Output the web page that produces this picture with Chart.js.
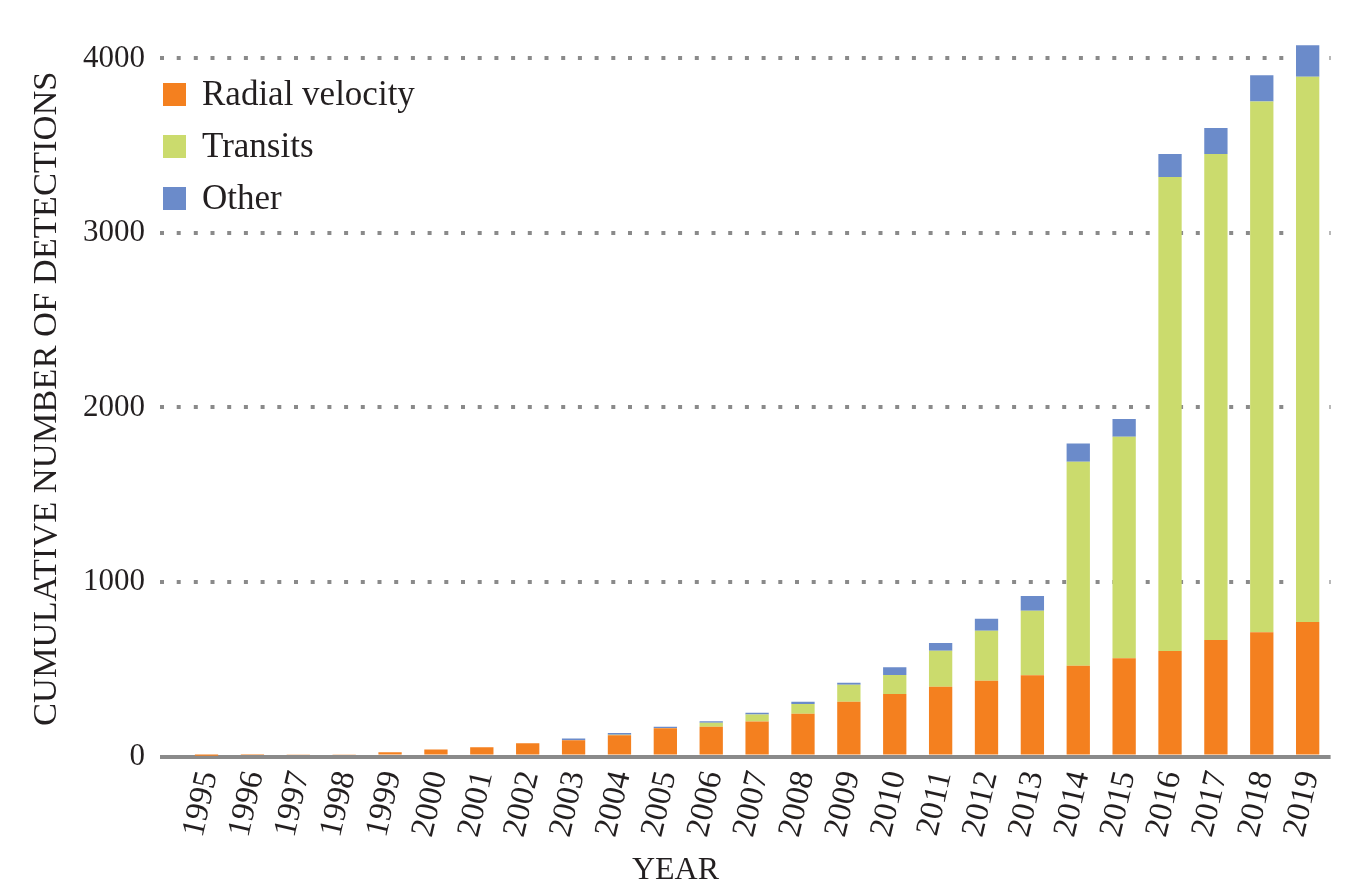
<!DOCTYPE html>
<html lang="en">
<head>
  <meta charset="UTF-8" />
  <title>Cumulative exoplanet detections</title>
  <script src="https://cdn.jsdelivr.net/npm/chart.js"></script>
  <style>
    html, body { margin: 0; padding: 0; background: #fff; }
    #wrap { position: relative; width: 1351px; height: 892px; }
  </style>
</head>
<body>
  <div id="wrap"><canvas id="detections"></canvas></div>

  <script>
    // data (segment sizes, stacked)
    const years = ['1995', '1996', '1997', '1998', '1999', '2000', '2001', '2002', '2003', '2004',
      '2005', '2006', '2007', '2008', '2009', '2010', '2011', '2012', '2013', '2014',
      '2015', '2016', '2017', '2018', '2019'];
    const radialVelocity = [5, 8, 10, 13, 25, 40, 53, 76, 93, 122,
      162, 171, 200, 245, 314, 358, 400, 434, 465, 520,
      563, 605, 668, 712, 771];
    const transits = [0, 0, 0, 0, 0, 0, 0, 0, 0, 2,
      2, 23, 40, 56, 97, 109, 206, 287, 370, 1169,
      1269, 2715, 2784, 3042, 3124];
    const other = [0, 0, 0, 0, 0, 0, 0, 0, 10, 10,
      6, 8, 11, 13, 12, 44, 44, 69, 85, 105,
      102, 132, 149, 150, 181];
    const yTicks = [0, 1000, 2000, 3000, 4000];

    const FONT = "'Liberation Serif', 'Times New Roman', serif";
    const INK = '#231f20';
    const GRID = '#8a8a8a';

    // legend drawn inside the plot, top-left
    const insideLegend = {
      id: 'insideLegend',
      afterDraw(chart) {
        const ctx = chart.ctx;
        const area = chart.chartArea;
        ctx.save();
        ctx.font = '35px ' + FONT;
        ctx.textBaseline = 'middle';
        chart.data.datasets.forEach((ds, i) => {
          const x = area.left - 20.6;
          const y = area.top + 42 + i * 52;
          ctx.fillStyle = ds.backgroundColor;
          ctx.fillRect(x, y, 23, 23);
          ctx.fillStyle = INK;
          ctx.fillText(ds.label, x + 39, y + 13);
        });
        ctx.restore();
      }
    };

    new Chart(document.getElementById('detections'), {
      type: 'bar',
      data: {
        labels: years,
        datasets: [
          { label: 'Radial velocity', data: radialVelocity, backgroundColor: '#f4801f' },
          { label: 'Transits', data: transits, backgroundColor: '#cbdb6d' },
          { label: 'Other', data: other, backgroundColor: '#6b8bca' }
        ]
      },
      options: {
        responsive: true,
        maintainAspectRatio: false,
        animation: false,
        layout: { padding: { top: 41, right: 20.4, left: 20.4, bottom: 0 } },
        datasets: {
          bar: { categoryPercentage: 1, barPercentage: 0.508 }
        },
        plugins: {
          legend: { display: false },
          tooltip: { enabled: false },
          title: {
            display: true,
            text: 'YEAR',
            position: 'bottom',
            color: INK,
            font: { family: FONT, size: 32, weight: 'normal' },
            padding: { top: 0, bottom: 2 }
          }
        },
        scales: {
          x: {
            stacked: true,
            grid: { display: false },
            border: { display: false },
            afterFit(scale) { scale.height = 95.1; },
            ticks: {
              autoSkip: false,
              minRotation: 77,
              maxRotation: 77,
              padding: 3,
              labelOffset: 2,
              color: INK,
              font: { family: FONT, size: 33 }
            }
          },
          y: {
            stacked: true,
            min: 0,
            max: 4100,
            afterBuildTicks(scale) { scale.ticks = yTicks.map(v => ({ value: v })); },
            afterFit(scale) { scale.width = 163.2; },
            grid: {
              color: GRID,
              lineWidth: 4,
              tickLength: 23.6,
              tickColor: GRID,
              tickWidth: 4,
              tickBorderDash: ctx => ctx.tick.value === 0 ? [] : [4, 12.7]
            },
            border: {
              display: false,
              dash: ctx => ctx.tick.value === 0 ? [] : [4, 12.7],
              dashOffset: 6.9
            },
            ticks: {
              padding: 15,
              color: INK,
              font: { family: FONT, size: 31 },
              callback: value => String(value)
            },
            title: {
              display: true,
              text: 'CUMULATIVE NUMBER OF DETECTIONS',
              color: INK,
              font: { family: FONT, size: 34.5, weight: 'normal' },
              padding: { top: 6, bottom: 0 }
            }
          }
        }
      },
      plugins: [insideLegend]
    });
  </script>
</body>
</html>
